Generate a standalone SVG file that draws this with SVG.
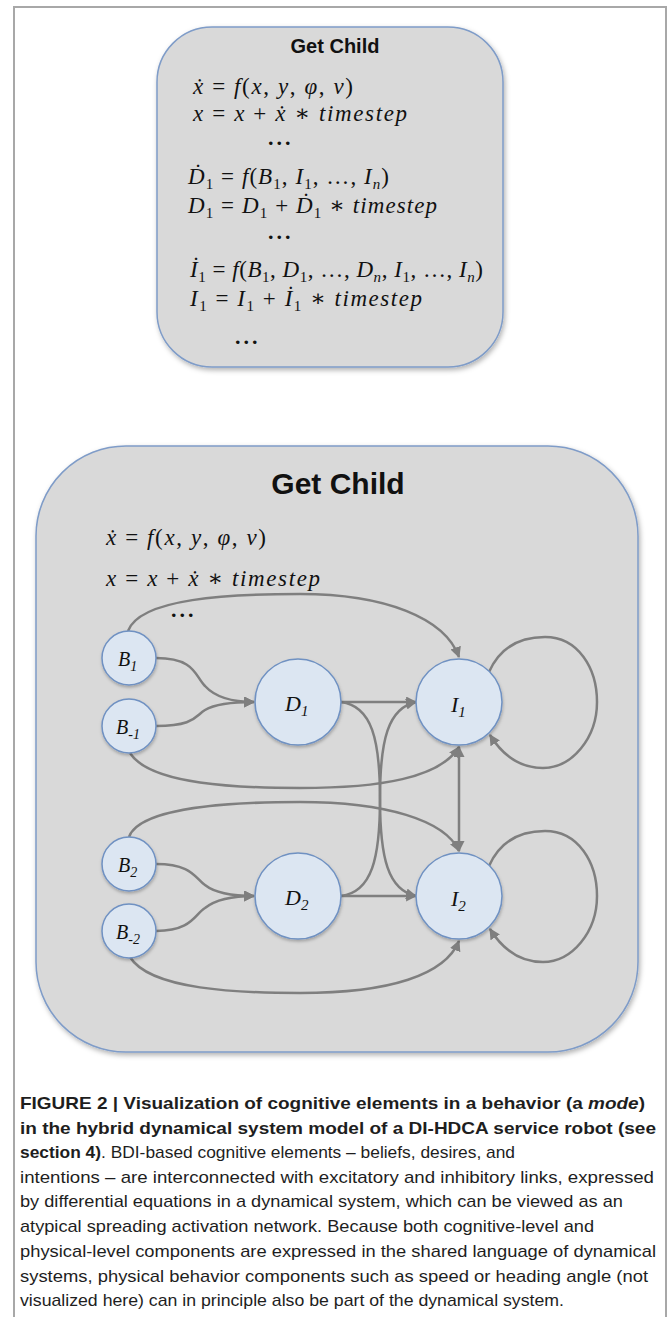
<svg xmlns="http://www.w3.org/2000/svg" width="667" height="1317" viewBox="0 0 667 1317">
  <defs>
    <style>
      .frame{fill:none;stroke:#a8a8a8;stroke-width:2}
      .box{fill:#d9d9d9;stroke:#7f9cc8;stroke-width:1.5}
      .title{font-family:"Liberation Sans","Open Sans",Arial,sans-serif;font-weight:bold;fill:#111;text-anchor:middle}
      .m{font-family:"Liberation Serif","DejaVu Serif",serif;font-style:italic;font-size:23px;fill:#111}
      .u{font-style:normal}
      .sub{font-size:15px}
      .dots{font-family:"Liberation Serif","DejaVu Serif",serif;font-weight:bold;font-size:22px;letter-spacing:3px;fill:#111}
      .node circle{fill:#dce6f2;stroke:#6f91c2;stroke-width:1.5;filter:url(#nsh)}
      .lbl{font-family:"Liberation Serif","DejaVu Serif",serif;font-style:italic;fill:#111}
      .edge{fill:none;stroke:#7f7f7f;stroke-width:2.5}
      .arr{marker-end:url(#ah)}
      .both{marker-start:url(#ah);marker-end:url(#ah)}
      .cap{font-family:"Liberation Sans",Arial,sans-serif;font-size:17px;fill:#1e1e1e}
      .b{font-weight:bold}
    </style>
    <marker id="ah" viewBox="0 0 10 10" refX="9" refY="5" markerWidth="11" markerHeight="11" markerUnits="userSpaceOnUse" orient="auto-start-reverse">
      <path d="M0,0 L10,5 L0,10 z" fill="#7f7f7f"/>
    </marker>
    <filter id="bsh" x="-10%" y="-10%" width="125%" height="125%">
      <feDropShadow dx="1.5" dy="2.5" stdDeviation="2.5" flood-color="#000" flood-opacity="0.3"/>
    </filter>
    <filter id="nsh" x="-20%" y="-20%" width="140%" height="150%">
      <feDropShadow dx="0.5" dy="2" stdDeviation="1.5" flood-color="#000" flood-opacity="0.25"/>
    </filter>
  </defs>

  <rect width="667" height="1317" fill="#ffffff"/>
  <!-- figure frame -->
  <path class="frame" d="M13,7 H666 V1317 M14,7 V1317"/>

  <!-- upper panel: equation list -->
  <g id="panel-equations">
    <rect class="box" x="157" y="27" width="346" height="340" rx="55" ry="55" filter="url(#bsh)"/>
    <text class="title" x="335" y="53" font-size="20">Get Child</text>
    <text class="m" x="193" y="94" textLength="160">ẋ <tspan class="u">=</tspan> f<tspan class="u">(</tspan>x<tspan class="u">,</tspan> y<tspan class="u">,</tspan> φ<tspan class="u">,</tspan> v<tspan class="u">)</tspan></text>
    <text class="m" x="193" y="121" textLength="214">x <tspan class="u">=</tspan> x <tspan class="u">+</tspan> ẋ <tspan class="u">∗</tspan> timestep</text>
    <text class="dots" x="268" y="145">...</text>
    <text class="m" x="188" y="184" textLength="201">Ḋ<tspan class="u sub" dy="5">1</tspan><tspan class="u" dy="-5"> = </tspan>f<tspan class="u">(</tspan>B<tspan class="u sub" dy="5">1</tspan><tspan class="u" dy="-5">, </tspan>I<tspan class="u sub" dy="5">1</tspan><tspan class="u" dy="-5">, …, </tspan>I<tspan class="sub" dy="5">n</tspan><tspan class="u" dy="-5">)</tspan></text>
    <text class="m" x="188" y="213" textLength="249">D<tspan class="u sub" dy="5">1</tspan><tspan class="u" dy="-5"> = </tspan>D<tspan class="u sub" dy="5">1</tspan><tspan class="u" dy="-5"> + </tspan>Ḋ<tspan class="u sub" dy="5">1</tspan><tspan class="u" dy="-5"> ∗ </tspan>timestep</text>
    <text class="dots" x="268" y="239">...</text>
    <text class="m" x="190" y="277" textLength="293">İ<tspan class="u sub" dy="5">1</tspan><tspan class="u" dy="-5"> = </tspan>f<tspan class="u">(</tspan>B<tspan class="u sub" dy="5">1</tspan><tspan class="u" dy="-5">, </tspan>D<tspan class="u sub" dy="5">1</tspan><tspan class="u" dy="-5">, …, </tspan>D<tspan class="sub" dy="5">n</tspan><tspan class="u" dy="-5">, </tspan>I<tspan class="u sub" dy="5">1</tspan><tspan class="u" dy="-5">, …, </tspan>I<tspan class="sub" dy="5">n</tspan><tspan class="u" dy="-5">)</tspan></text>
    <text class="m" x="190" y="306" textLength="232">I<tspan class="u sub" dy="5">1</tspan><tspan class="u" dy="-5"> = </tspan>I<tspan class="u sub" dy="5">1</tspan><tspan class="u" dy="-5"> + </tspan>İ<tspan class="u sub" dy="5">1</tspan><tspan class="u" dy="-5"> ∗ </tspan>timestep</text>
    <text class="dots" x="235" y="344">...</text>
  </g>

  <!-- lower panel: network container -->
  <g id="panel-network">
    <rect class="box" x="36" y="446" width="602" height="606" rx="90" ry="90" filter="url(#bsh)"/>
    <text class="title" x="338" y="494" font-size="30">Get Child</text>
    <text class="m" x="106" y="545" textLength="160">ẋ <tspan class="u">=</tspan> f<tspan class="u">(</tspan>x<tspan class="u">,</tspan> y<tspan class="u">,</tspan> φ<tspan class="u">,</tspan> v<tspan class="u">)</tspan></text>
    <text class="m" x="106" y="586" textLength="214">x <tspan class="u">=</tspan> x <tspan class="u">+</tspan> ẋ <tspan class="u">∗</tspan> timestep</text>
    <text class="dots" x="171" y="617">...</text>
  </g>

  <!-- links between cognitive elements -->
  <g id="connectors">
    <path class="edge arr" d="M128,631 C140,598 230,594 300,594 C385,594 445,618 459,657"/>
    <path class="edge arr" d="M156,658 C195,658 195,676 205,686 C215,697 232,702 254,702"/>
    <path class="edge arr" d="M156,726 C195,726 195,716 205,710 C215,704 232,702 254,702"/>
    <path class="edge arr" d="M130,753 C150,785 240,788 300,788 C380,788 440,778 459,747"/>
    <path class="edge arr" d="M129,837 C140,806 240,802 300,802 C385,802 445,820 459,851"/>
    <path class="edge arr" d="M156,864 C192,864 195,878 205,885 C215,893 232,896 254,896"/>
    <path class="edge arr" d="M156,931 C192,931 195,914 205,908 C215,900 232,896 254,896"/>
    <path class="edge arr" d="M130,957 C150,990 240,993 300,993 C390,993 445,975 459,941"/>
    <path class="edge arr" d="M341,702 H416"/>
    <path class="edge arr" d="M341,896 H416"/>
    <path class="edge arr" d="M341,702 C372,706 380,740 380,799 C380,858 388,890 416,896"/>
    <path class="edge arr" d="M341,896 C372,892 380,858 380,799 C380,740 388,708 416,702"/>
    <path class="edge both" d="M459,747 V851"/>
    <path class="edge arr" d="M489,672 C502,643 525,637 545,637 C578,637 597,668 597,702 C597,738 572,768 543,768 C520,768 503,756 490,735"/>
    <path class="edge arr" d="M489,866 C502,837 525,831 545,831 C578,831 597,862 597,896 C597,932 572,962 543,962 C520,962 503,950 490,929"/>
  </g>

  <!-- nodes -->
  <g id="node-B1" class="node">
    <circle cx="129" cy="658" r="27"/>
    <text class="lbl" x="118" y="666" font-size="20">B<tspan font-size="14" dy="5">1</tspan></text>
  </g>
  <g id="node-Bm1" class="node">
    <circle cx="129" cy="726" r="27"/>
    <text class="lbl" x="116" y="734" font-size="20">B<tspan font-size="14" dy="5">-1</tspan></text>
  </g>
  <g id="node-D1" class="node">
    <circle cx="298" cy="702" r="43"/>
    <text class="lbl" x="285" y="711" font-size="22">D<tspan font-size="15" dy="5">1</tspan></text>
  </g>
  <g id="node-I1" class="node">
    <circle cx="459" cy="702" r="43"/>
    <text class="lbl" x="451" y="712" font-size="22">I<tspan font-size="15" dy="5">1</tspan></text>
  </g>
  <g id="node-B2" class="node">
    <circle cx="129" cy="864" r="27"/>
    <text class="lbl" x="118" y="872" font-size="20">B<tspan font-size="14" dy="5">2</tspan></text>
  </g>
  <g id="node-Bm2" class="node">
    <circle cx="129" cy="931" r="27"/>
    <text class="lbl" x="116" y="939" font-size="20">B<tspan font-size="14" dy="5">-2</tspan></text>
  </g>
  <g id="node-D2" class="node">
    <circle cx="298" cy="896" r="43"/>
    <text class="lbl" x="285" y="905" font-size="22">D<tspan font-size="15" dy="5">2</tspan></text>
  </g>
  <g id="node-I2" class="node">
    <circle cx="459" cy="896" r="43"/>
    <text class="lbl" x="451" y="906" font-size="22">I<tspan font-size="15" dy="5">2</tspan></text>
  </g>

  <!-- caption -->
  <g id="caption">
    <text class="cap b" x="20" y="1109" textLength="625" lengthAdjust="spacingAndGlyphs">FIGURE 2 | Visualization of cognitive elements in a behavior (a <tspan font-style="italic">mode</tspan>)</text>
    <text class="cap b" x="20" y="1134" textLength="636" lengthAdjust="spacingAndGlyphs">in the hybrid dynamical system model of a DI-HDCA service robot (see</text>
    <text class="cap" x="20" y="1158" textLength="495" lengthAdjust="spacingAndGlyphs"><tspan class="b">section 4)</tspan>. BDI-based cognitive elements – beliefs, desires, and</text>
    <text class="cap" x="20" y="1183" textLength="634" lengthAdjust="spacingAndGlyphs">intentions – are interconnected with excitatory and inhibitory links, expressed</text>
    <text class="cap" x="20" y="1207" textLength="603" lengthAdjust="spacingAndGlyphs">by differential equations in a dynamical system, which can be viewed as an</text>
    <text class="cap" x="20" y="1232" textLength="574" lengthAdjust="spacingAndGlyphs">atypical spreading activation network. Because both cognitive-level and</text>
    <text class="cap" x="20" y="1257" textLength="636" lengthAdjust="spacingAndGlyphs">physical-level components are expressed in the shared language of dynamical</text>
    <text class="cap" x="20" y="1282" textLength="628" lengthAdjust="spacingAndGlyphs">systems, physical behavior components such as speed or heading angle (not</text>
    <text class="cap" x="20" y="1306" textLength="544" lengthAdjust="spacingAndGlyphs">visualized here) can in principle also be part of the dynamical system.</text>
  </g>
</svg>
